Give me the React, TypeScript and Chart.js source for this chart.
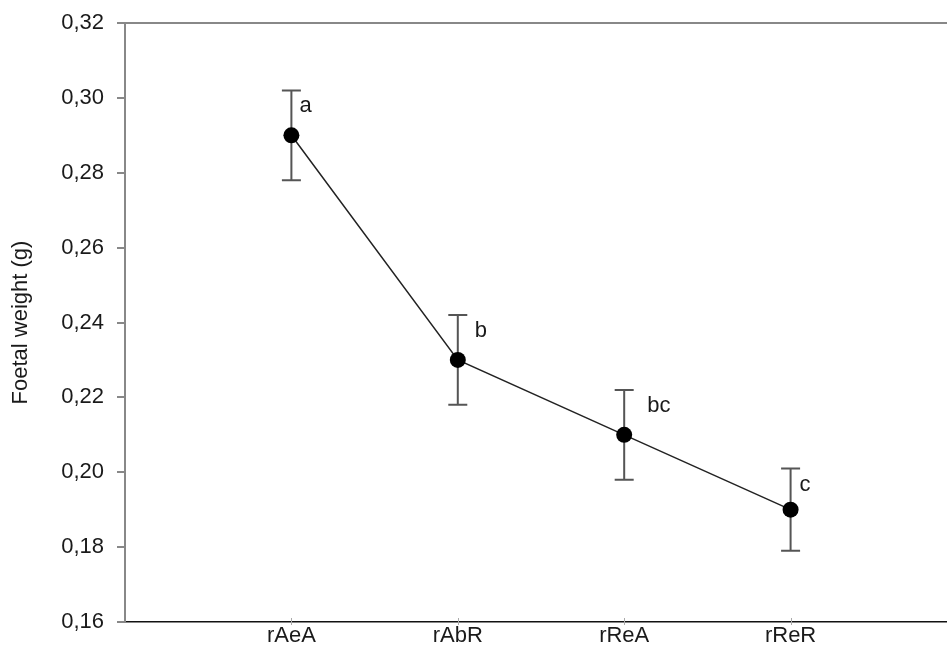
import React, { useEffect, useRef } from "react";
import { Chart, registerables } from "chart.js";

Chart.register(...registerables);

const categories = ["rAeA", "rAbR", "rReA", "rReR"];
const means = [0.29, 0.23, 0.21, 0.19];
const errors = [0.012, 0.012, 0.012, 0.011];
const letters = ["a", "b", "bc", "c"];
const yTicks = [0.16, 0.18, 0.2, 0.22, 0.24, 0.26, 0.28, 0.3, 0.32];

const FONT = "'Liberation Sans', Arial, Helvetica, sans-serif";

const errorBarPlugin = {
  id: "errorBars",
  beforeDatasetsDraw(chart: any) {
    const { ctx, scales } = chart;
    const xs = scales.x;
    const ys = scales.y;
    ctx.save();
    ctx.strokeStyle = "#555";
    ctx.lineWidth = 2;
    means.forEach((m, i) => {
      const x = xs.getPixelForValue(i + 1);
      const yt = ys.getPixelForValue(m + errors[i]);
      const yb = ys.getPixelForValue(m - errors[i]);
      ctx.beginPath();
      ctx.moveTo(x, yt);
      ctx.lineTo(x, yb);
      ctx.moveTo(x - 9.5, yt);
      ctx.lineTo(x + 9.5, yt);
      ctx.moveTo(x - 9.5, yb);
      ctx.lineTo(x + 9.5, yb);
      ctx.stroke();
    });
    ctx.restore();
  },
  afterDatasetsDraw(chart: any) {
    const { ctx, scales } = chart;
    const xs = scales.x;
    const ys = scales.y;
    const dxs = [8, 17, 23, 9];
    ctx.save();
    ctx.fillStyle = "#1a1a1a";
    ctx.font = `22px ${FONT}`;
    ctx.textAlign = "left";
    ctx.textBaseline = "middle";
    letters.forEach((t, i) => {
      const x = xs.getPixelForValue(i + 1);
      const yt = ys.getPixelForValue(means[i] + errors[i]);
      ctx.fillText(t, x + dxs[i], yt + 16);
    });
    ctx.restore();
  },
};

const framePlugin = {
  id: "frame",
  afterDraw(chart: any) {
    const { ctx, chartArea, scales } = chart;
    ctx.save();
    ctx.strokeStyle = "#888";
    ctx.lineWidth = 2;
    ctx.beginPath();
    ctx.moveTo(chartArea.left - 8, chartArea.top);
    ctx.lineTo(chart.width, chartArea.top);
    ctx.stroke();
    ctx.strokeStyle = "#aaa";
    ctx.lineWidth = 1;
    categories.forEach((_, i) => {
      const x = Math.round(scales.x.getPixelForValue(i + 1)) + 0.5;
      ctx.beginPath();
      ctx.moveTo(x, chartArea.bottom - 4);
      ctx.lineTo(x, chartArea.bottom + 3);
      ctx.stroke();
    });
    ctx.restore();
  },
};

export default function App() {
  const ref = useRef<HTMLCanvasElement>(null);
  useEffect(() => {
    document.body.style.margin = "0";
    const chart = new Chart(ref.current!, {
      type: "line",
      data: {
        datasets: [
          {
            data: means.map((m, i) => ({ x: i + 1, y: m })),
            borderColor: "#222",
            borderWidth: 1.5,
            pointRadius: 8,
            pointBackgroundColor: "#000",
            pointBorderColor: "#000",
            pointBorderWidth: 0,
          },
        ],
      },
      options: {
        responsive: false,
        animation: false,
        layout: { autoPadding: false, padding: { top: 23, right: 0, left: 0, bottom: 0 } },
        plugins: { legend: { display: false }, tooltip: { enabled: false } },
        scales: {
          x: {
            type: "linear",
            min: 0,
            max: 4.94,
            afterBuildTicks: (s: any) => {
              s.ticks = categories.map((_, i) => ({ value: i + 1 }));
            },
            afterFit: (s: any) => {
              s.height = 23;
              s.paddingLeft = 0;
              s.paddingRight = 0;
            },
            ticks: {
              callback: (v: any) => categories[Number(v) - 1] ?? "",
              color: "#1a1a1a",
              font: { family: FONT, size: 22 },
              padding: 1,
              maxRotation: 0,
              autoSkip: false,
            },
            grid: { display: false, drawTicks: false },
            border: { display: true, color: "#111", width: 1.5 },
          },
          y: {
            min: 0.16,
            max: 0.32,
            afterBuildTicks: (s: any) => {
              s.ticks = yTicks.map((v) => ({ value: v }));
            },
            afterFit: (s: any) => {
              s.width = 125;
              s.paddingTop = 0;
              s.paddingBottom = 0;
            },
            ticks: {
              callback: (v: any) => Number(v).toFixed(2).replace(".", ","),
              color: "#1a1a1a",
              font: { family: FONT, size: 22 },
              padding: 13,
            },
            grid: {
              drawOnChartArea: false,
              drawTicks: true,
              tickLength: 8,
              color: "#888",
              lineWidth: 2,
            },
            border: { display: true, color: "#888", width: 2 },
            title: {
              display: true,
              text: "Foetal weight (g)",
              color: "#1a1a1a",
              font: { family: FONT, size: 22 },
              padding: { top: 8, bottom: 0 },
            },
          },
        },
      },
      plugins: [errorBarPlugin, framePlugin],
    });
    return () => chart.destroy();
  }, []);
  return (
    <div style={{ width: 947, height: 645 }}>
      <canvas ref={ref} width={947} height={645} />
    </div>
  );
}
